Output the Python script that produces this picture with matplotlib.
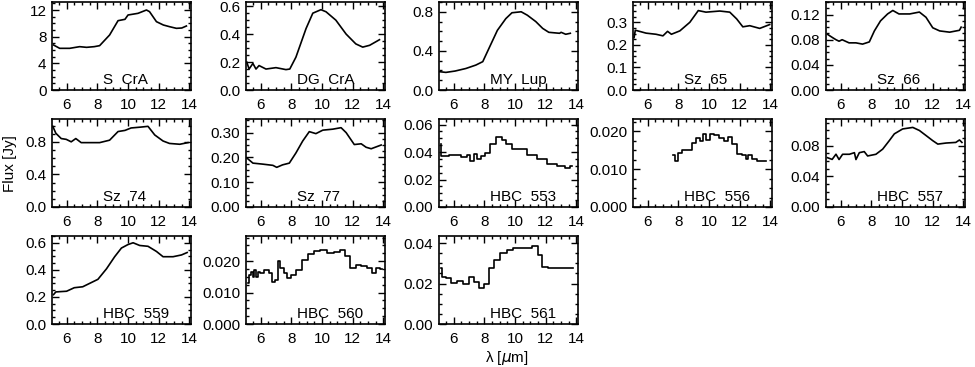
import matplotlib
matplotlib.use('Agg')
import matplotlib.pyplot as plt
from matplotlib.ticker import MultipleLocator, AutoMinorLocator

plt.rcParams['font.family'] = ['Liberation Sans', 'DejaVu Sans']

# spectra (wavelength in micron, flux in Jy)
scra_x = [5.15, 5.55, 6.2, 6.85, 7.3, 7.8, 8.15, 8.8, 9.35, 9.8, 10.0, 10.65, 11.2, 11.4, 11.85, 12.3, 12.7, 13.15, 13.5, 13.8]
scra_y = [6.75, 6.25, 6.25, 6.5, 6.4, 6.5, 6.65, 8.25, 10.4, 10.6, 11.25, 11.5, 12.0, 11.75, 10.25, 9.75, 9.5, 9.25, 9.3, 9.6]

dgcra_x = [5.1, 5.25, 5.5, 5.7, 5.9, 6.35, 7.0, 7.65, 7.9, 8.3, 8.96, 9.4, 9.93, 10.26, 10.9, 11.57, 12.2, 12.65, 13.1, 13.74]
dgcra_y = [0.20, 0.15, 0.19, 0.15, 0.175, 0.15, 0.16, 0.146, 0.15, 0.235, 0.44, 0.55, 0.575, 0.56, 0.50, 0.40, 0.33, 0.307, 0.32, 0.36]

mylup_x = [5.1, 5.5, 6.1, 6.8, 7.45, 7.9, 8.3, 8.85, 9.4, 9.8, 10.4, 10.8, 11.35, 11.8, 12.2, 12.9, 13.0, 13.3, 13.6]
mylup_y = [0.187, 0.18, 0.194, 0.22, 0.255, 0.29, 0.425, 0.61, 0.73, 0.79, 0.80, 0.765, 0.70, 0.63, 0.59, 0.58, 0.59, 0.57, 0.58]

sz65_x = [5.12, 5.2, 5.9, 6.55, 7.0, 7.3, 7.55, 8.1, 8.75, 9.3, 9.8, 10.7, 11.35, 11.8, 12.2, 12.65, 13.3, 13.95]
sz65_y = [0.232, 0.265, 0.252, 0.247, 0.24, 0.26, 0.247, 0.262, 0.30, 0.352, 0.345, 0.35, 0.345, 0.315, 0.28, 0.285, 0.273, 0.29]

sz66_x = [5.15, 5.5, 5.7, 5.9, 6.1, 6.55, 7.0, 7.43, 7.87, 8.2, 8.6, 9.06, 9.4, 9.8, 10.5, 11.13, 11.56, 12.0, 12.45, 13.1, 13.74, 13.85]
sz66_y = [0.0885, 0.083, 0.080, 0.0776, 0.080, 0.075, 0.075, 0.073, 0.0765, 0.094, 0.110, 0.121, 0.1265, 0.121, 0.121, 0.124, 0.1157, 0.099, 0.094, 0.092, 0.095, 0.100]

sz74_x = [5.1, 5.3, 5.65, 5.98, 6.3, 6.6, 6.95, 7.5, 8.15, 8.8, 9.35, 9.8, 10.2, 10.8, 11.3, 11.74, 12.28, 12.7, 13.37, 13.9]
sz74_y = [0.99, 0.905, 0.84, 0.83, 0.80, 0.84, 0.79, 0.79, 0.79, 0.82, 0.926, 0.94, 0.97, 0.98, 0.99, 0.884, 0.81, 0.78, 0.77, 0.79]

sz77_x = [5.1, 5.5, 6.13, 6.8, 7.05, 7.43, 7.87, 8.3, 8.74, 9.17, 9.6, 10.05, 10.7, 11.24, 11.57, 12.1, 12.55, 12.87, 13.2, 13.85]
sz77_y = [0.198, 0.177, 0.173, 0.168, 0.160, 0.170, 0.177, 0.218, 0.266, 0.304, 0.296, 0.31, 0.314, 0.32, 0.30, 0.252, 0.255, 0.241, 0.235, 0.25]

hbc553_x = [5.15, 5.26, 6.13, 6.78, 7.0, 7.2, 7.43, 7.65, 7.87, 8.2, 8.5, 8.96, 9.28, 9.6, 10.04, 10.48, 11.13, 11.78, 12.43, 13.1, 13.4, 13.74]
hbc553_y = [0.0457, 0.037, 0.0378, 0.0363, 0.038, 0.0333, 0.0383, 0.0346, 0.037, 0.0395, 0.0457, 0.0506, 0.049, 0.0457, 0.0425, 0.042, 0.038, 0.0346, 0.0314, 0.0296, 0.0284, 0.030]

hbc556_x = [7.65, 7.87, 8.1, 8.4, 8.74, 9.07, 9.28, 9.5, 9.72, 9.93, 10.15, 10.48, 10.8, 11.13, 11.35, 11.68, 12.0, 12.33, 12.43, 12.65, 13.0, 13.3, 13.74]
hbc556_y = [0.0139, 0.0121, 0.0143, 0.0152, 0.015, 0.017, 0.0184, 0.0175, 0.0193, 0.0177, 0.0193, 0.0191, 0.0184, 0.0175, 0.0186, 0.0166, 0.0141, 0.0139, 0.0126, 0.0137, 0.0128, 0.0121, 0.0123]

hbc557_x = [5.15, 5.45, 5.7, 5.9, 6.13, 6.57, 6.9, 7.0, 7.22, 7.54, 7.76, 8.3, 8.74, 9.17, 9.5, 10.04, 10.7, 11.13, 11.57, 12.0, 12.33, 12.87, 13.5, 13.74, 13.9]
hbc557_y = [0.0644, 0.0622, 0.069, 0.062, 0.0689, 0.0689, 0.071, 0.062, 0.071, 0.0724, 0.0667, 0.0689, 0.0756, 0.0867, 0.0956, 0.102, 0.104, 0.100, 0.0933, 0.0867, 0.0822, 0.0836, 0.0844, 0.0876, 0.0844]

hbc559_x = [5.15, 5.3, 6.0, 6.5, 7.05, 7.5, 8.04, 8.6, 9.13, 9.57, 10.0, 10.33, 10.76, 11.3, 11.85, 12.28, 12.93, 13.48, 13.85]
hbc559_y = [0.217, 0.237, 0.242, 0.268, 0.275, 0.30, 0.33, 0.408, 0.497, 0.561, 0.587, 0.60, 0.58, 0.574, 0.536, 0.497, 0.497, 0.51, 0.528]

hbc560_x = [5.15, 5.33, 5.43, 5.54, 5.65, 5.76, 5.87, 6.1, 6.4, 6.63, 6.85, 7.07, 7.17, 7.4, 7.6, 7.78, 8.15, 8.48, 8.9, 9.24, 9.67, 10.1, 10.54, 11.0, 11.3, 11.63, 12.07, 12.4, 12.72, 13.15, 13.37, 13.7, 13.9]
hbc560_y = [0.0129, 0.0156, 0.0167, 0.015, 0.0172, 0.015, 0.0167, 0.0162, 0.0172, 0.0162, 0.0134, 0.014, 0.020, 0.0178, 0.0162, 0.0145, 0.0156, 0.0172, 0.0205, 0.0222, 0.0233, 0.0235, 0.0225, 0.023, 0.0236, 0.0216, 0.0178, 0.0189, 0.0183, 0.0178, 0.0162, 0.0178, 0.0176]

hbc561_x = [5.2, 5.33, 5.65, 5.98, 6.4, 6.85, 7.17, 7.5, 7.83, 8.15, 8.48, 8.8, 9.24, 9.67, 10.1, 10.76, 11.4, 11.63, 11.85, 12.5, 13.15, 13.8]
hbc561_y = [0.0275, 0.0233, 0.0225, 0.0205, 0.0212, 0.020, 0.0233, 0.0208, 0.0178, 0.020, 0.0275, 0.0317, 0.035, 0.0367, 0.0378, 0.0378, 0.0388, 0.0342, 0.0283, 0.0278, 0.0275, 0.0278]

names = ['S  CrA', 'DG  CrA', 'MY  Lup', 'Sz  65', 'Sz  66',
         'Sz  74', 'Sz  77', 'HBC  553', 'HBC  556', 'HBC  557',
         'HBC  559', 'HBC  560', 'HBC  561']
spectra = [(scra_x, scra_y), (dgcra_x, dgcra_y), (mylup_x, mylup_y), (sz65_x, sz65_y), (sz66_x, sz66_y),
           (sz74_x, sz74_y), (sz77_x, sz77_y), (hbc553_x, hbc553_y), (hbc556_x, hbc556_y), (hbc557_x, hbc557_y),
           (hbc559_x, hbc559_y), (hbc560_x, hbc560_y), (hbc561_x, hbc561_y)]
ytops = [13.2, 0.63, 0.9, 0.39, 0.14, 1.08, 0.355, 0.064, 0.0233, 0.115, 0.65, 0.028, 0.0435]
ysteps = [4, 0.2, 0.4, 0.1, 0.04, 0.4, 0.1, 0.02, 0.01, 0.04, 0.2, 0.01, 0.02]
yfmt = ['%d', '%.1f', '%.1f', '%.1f', '%.2f', '%.1f', '%.2f', '%.2f', '%.3f', '%.2f', '%.1f', '%.3f', '%.2f']
stepped = ['HBC  553', 'HBC  556', 'HBC  560', 'HBC  561']

W, H = 975, 367
fig = plt.figure(figsize=(W / 100, H / 100), dpi=100)

col_left = [52, 246, 439, 633, 826]
row_top = [2, 119, 236]
pw, ph = 139, 88

for i, name in enumerate(names):
    r, c = divmod(i, 5)
    x0 = col_left[c]
    y1 = row_top[r] + ph
    ax = fig.add_axes([x0 / W, (H - y1) / H, pw / W, ph / H])
    xs, ys = spectra[i]
    ds = 'steps-mid' if name in stepped else 'default'
    ax.plot(xs, ys, color='black', lw=1.2, drawstyle=ds)
    ax.set_xlim(5.05, 14.1)
    ax.set_ylim(0, ytops[i])
    ax.xaxis.set_major_locator(MultipleLocator(2))
    ax.xaxis.set_minor_locator(MultipleLocator(0.5))
    ax.yaxis.set_major_locator(MultipleLocator(ysteps[i]))
    ax.yaxis.set_minor_locator(AutoMinorLocator(4))
    ax.yaxis.set_major_formatter(plt.FormatStrFormatter(yfmt[i]))
    ax.tick_params(which='both', direction='in', top=True, right=True, labelsize=11, width=1)
    ax.tick_params(axis='x', pad=6)
    ax.tick_params(axis='y', pad=4)
    ax.tick_params(which='major', length=5)
    ax.tick_params(which='minor', length=2.5)
    for s in ax.spines.values():
        s.set_linewidth(1.2)
    ax.text(0.37, 0.07, name, transform=ax.transAxes, fontsize=11, ha='left', va='baseline')

fig.text(10 / W, 1 - 164 / H, 'Flux [Jy]', rotation=90, ha='center', va='center', fontsize=11)
fig.text(507 / W, 1 - 358 / H, 'λ [$\\mu$m]', ha='center', va='center', fontsize=11)

fig.savefig('out.png', dpi=100)
